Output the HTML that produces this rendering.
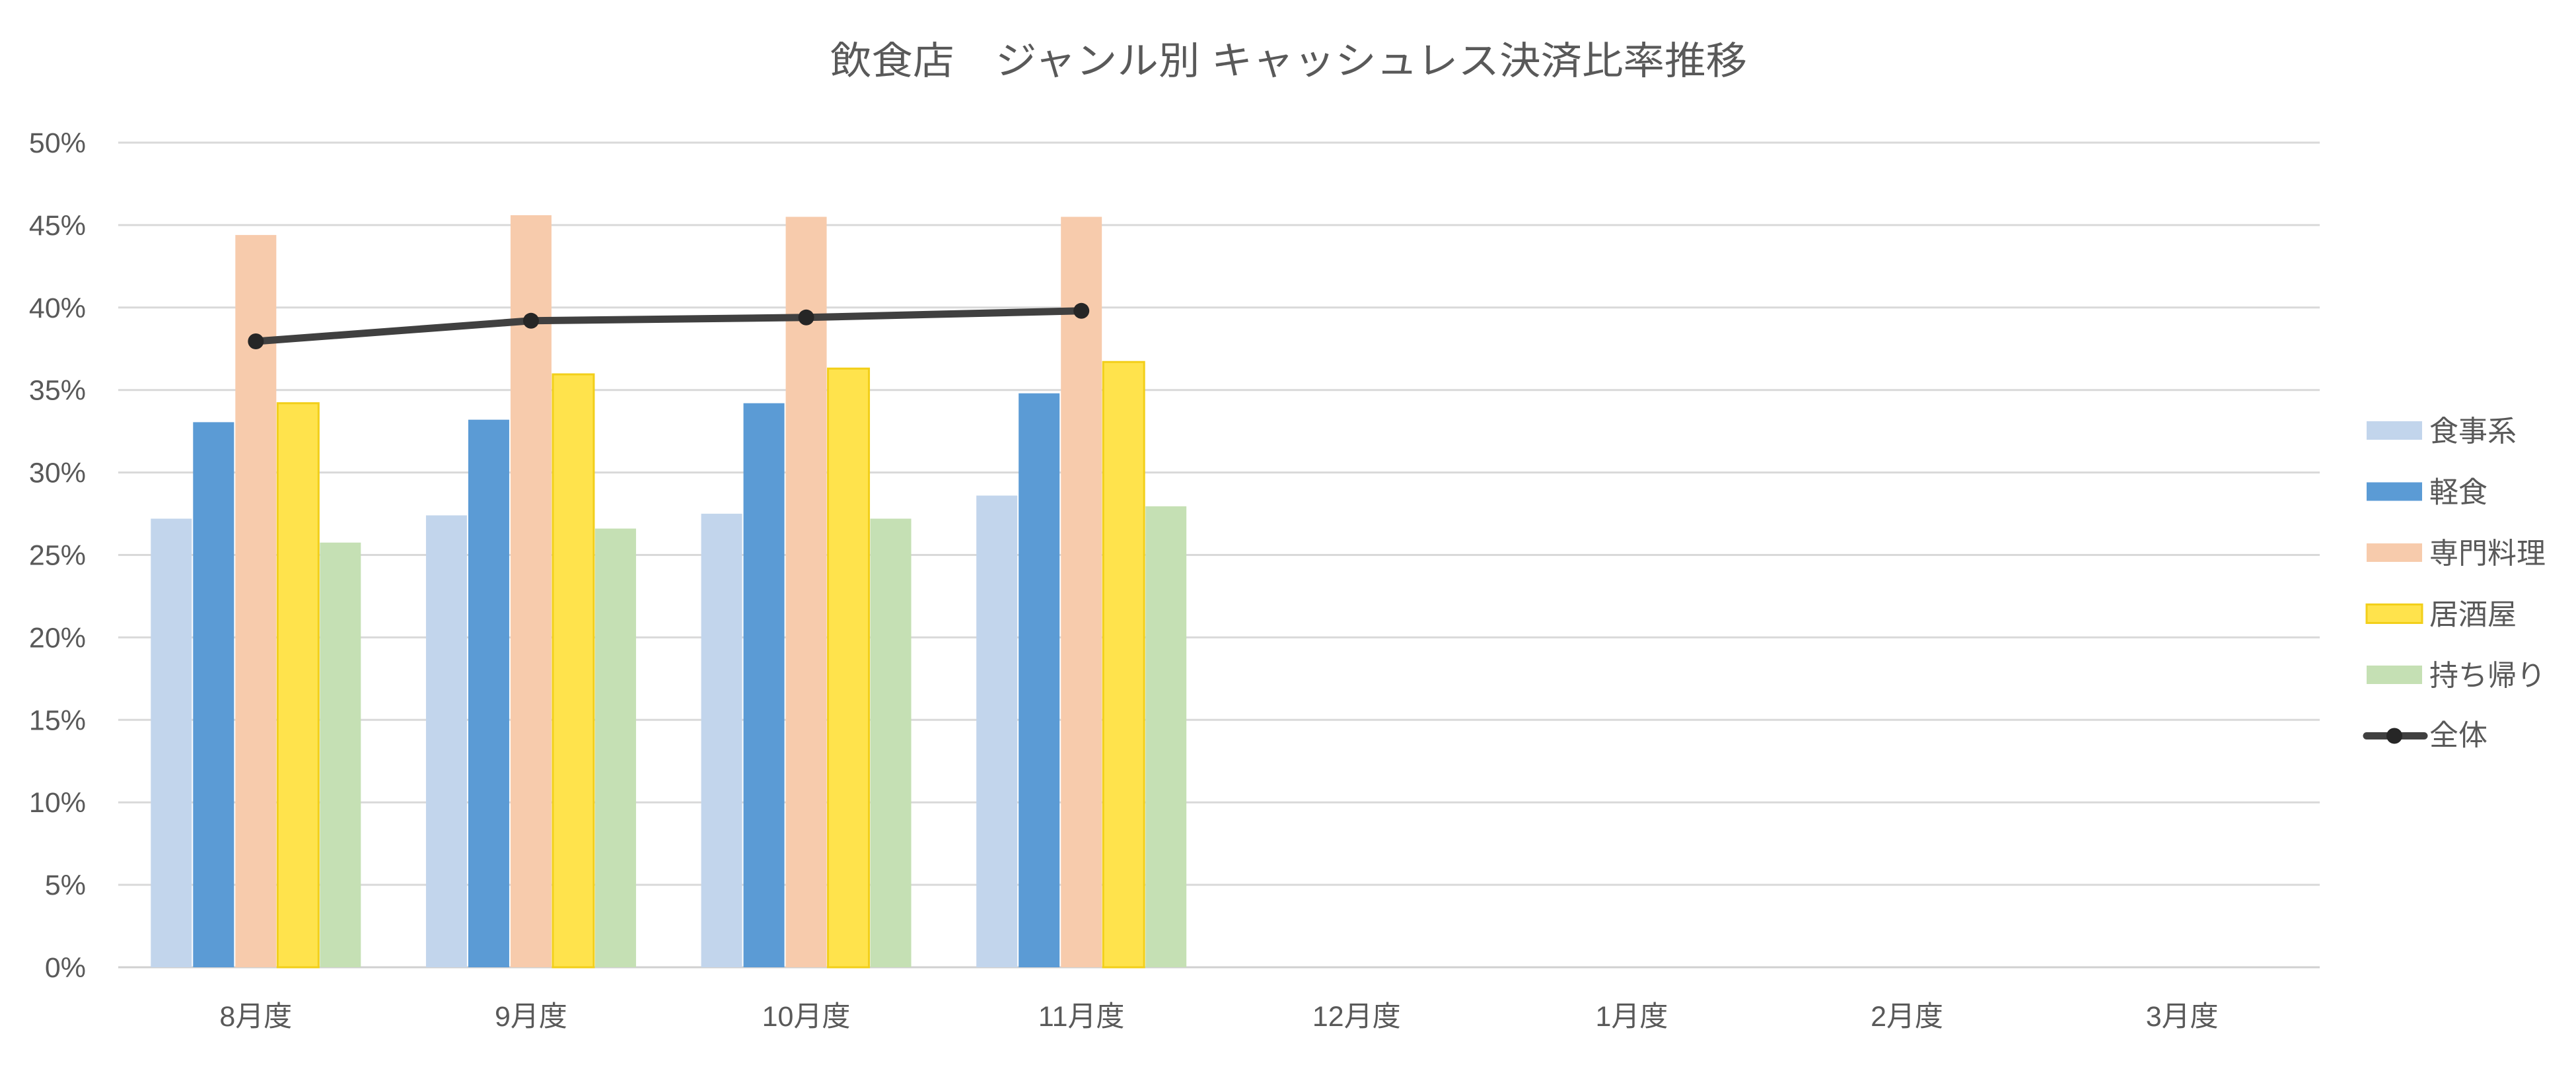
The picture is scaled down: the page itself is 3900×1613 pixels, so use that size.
<!DOCTYPE html>
<html><head><meta charset="utf-8"><style>
html,body{margin:0;padding:0;background:#fff;}
svg{display:block;font-family:"Liberation Sans","Noto Sans CJK JP",sans-serif;}
</style></head><body>
<svg id="chart" width="3900" height="1613" viewBox="0 0 3900 1613" xmlns="http://www.w3.org/2000/svg">
<rect width="3900" height="1613" fill="#fff"/>
<text x="1257" y="112" font-size="58" fill="#595959" textLength="1388" lengthAdjust="spacingAndGlyphs">飲食店　ジャンル別 キャッシュレス決済比率推移</text>
<g id="grid"></g><g id="bars"></g><g id="line"></g><g id="legend"></g>
</svg>
<script>
const categories = ["8月度","9月度","10月度","11月度","12月度","1月度","2月度","3月度"];
const seriesNames = ["食事系","軽食","専門料理","居酒屋","持ち帰り"];
const shokuji = [27.2,27.4,27.5,28.6];
const keishoku = [33.05,33.2,34.2,34.8];
const senmon = [44.4,45.6,45.5,45.5];
const izakaya = [34.2,35.95,36.3,36.7];
const mochikaeri = [25.75,26.6,27.2,27.95];
const zentai = [37.95,39.2,39.4,39.8];
const yTicks = [0,5,10,15,20,25,30,35,40,45,50];

const NS="http://www.w3.org/2000/svg";
const L=179,R=3512,T=216,B=1465;
const fills=["#C2D5EC","#5B9BD5","#F7CBAC","#FFE34C","#C5E0B4"];
const strokes=["none","none","none","#F2CF1A","none"];
const series=[shokuji,keishoku,senmon,izakaya,mochikaeri];
const catW=(R-L)/categories.length;
function y(v){return B-(v/50)*(B-T);}
function xc(i){return L+catW*(i+0.5);}
function mk(tag,attrs,parent){const e=document.createElementNS(NS,tag);for(const k in attrs)e.setAttribute(k,attrs[k]);parent.appendChild(e);return e;}
const grid=document.getElementById('grid');
yTicks.forEach(t=>{
  const ln=mk('line',{x1:L,x2:R,y1:y(t),y2:y(t),stroke:t===0?'#D0D0D0':'#D9D9D9','stroke-width':3},grid);
  
  
  const tx=mk('text',{x:130,y:y(t)+15,'text-anchor':'end','font-size':43,fill:'#595959'},grid);
  tx.textContent=t+'%';
  
  
});
categories.forEach((c,i)=>{
  const tx=mk('text',{x:xc(i),y:1554,'text-anchor':'middle','font-size':43,fill:'#595959'},grid);
  tx.textContent=c;
  
  
});
const bars=document.getElementById('bars');
const bw=64;
series.forEach((s,si)=>{
  s.forEach((v,i)=>{
    const x=xc(i)-2.5*bw+si*bw;
    const r=mk('rect',{x:x+1,y:y(v),width:bw-2,height:B-y(v),fill:fills[si]},bars);
    if(strokes[si]!=='none'){r.setAttribute('stroke',strokes[si]);r.setAttribute('stroke-width',3);}
    
    
  });
});
const lg=document.getElementById('line');
const pts=zentai.map((v,i)=>xc(i)+','+y(v)).join(' ');
const pl=mk('polyline',{points:pts,fill:'none',stroke:'#404040','stroke-width':11,'stroke-linejoin':'round'},lg);


zentai.forEach((v,i)=>{
  const c=mk('circle',{cx:xc(i),cy:y(v),r:12,fill:'#262626'},lg);
  
  
});
const leg=document.getElementById('legend');
const rowH=92.5, row0=652;
seriesNames.forEach((n,si)=>{
  const cy=row0+si*rowH;
  const r=mk('rect',{x:3583,y:cy-14,width:84,height:28,fill:fills[si]},leg);
  if(strokes[si]!=='none'){r.setAttribute('stroke',strokes[si]);r.setAttribute('stroke-width',3);}
  
  
  const t=mk('text',{x:3678,y:cy+16,'font-size':44,fill:'#595959'},leg);
  t.textContent=n;
  
  
});
const ly=row0+5*rowH;
const ll=mk('line',{x1:3583,x2:3670,y1:ly,y2:ly,stroke:'#404040','stroke-width':11,'stroke-linecap':'round'},leg);


const lc=mk('circle',{cx:3625,cy:ly,r:12,fill:'#262626'},leg);


const lt=mk('text',{x:3678,y:ly+14,'font-size':44,fill:'#595959'},leg);
lt.textContent='全体';


</script>
</body></html>
